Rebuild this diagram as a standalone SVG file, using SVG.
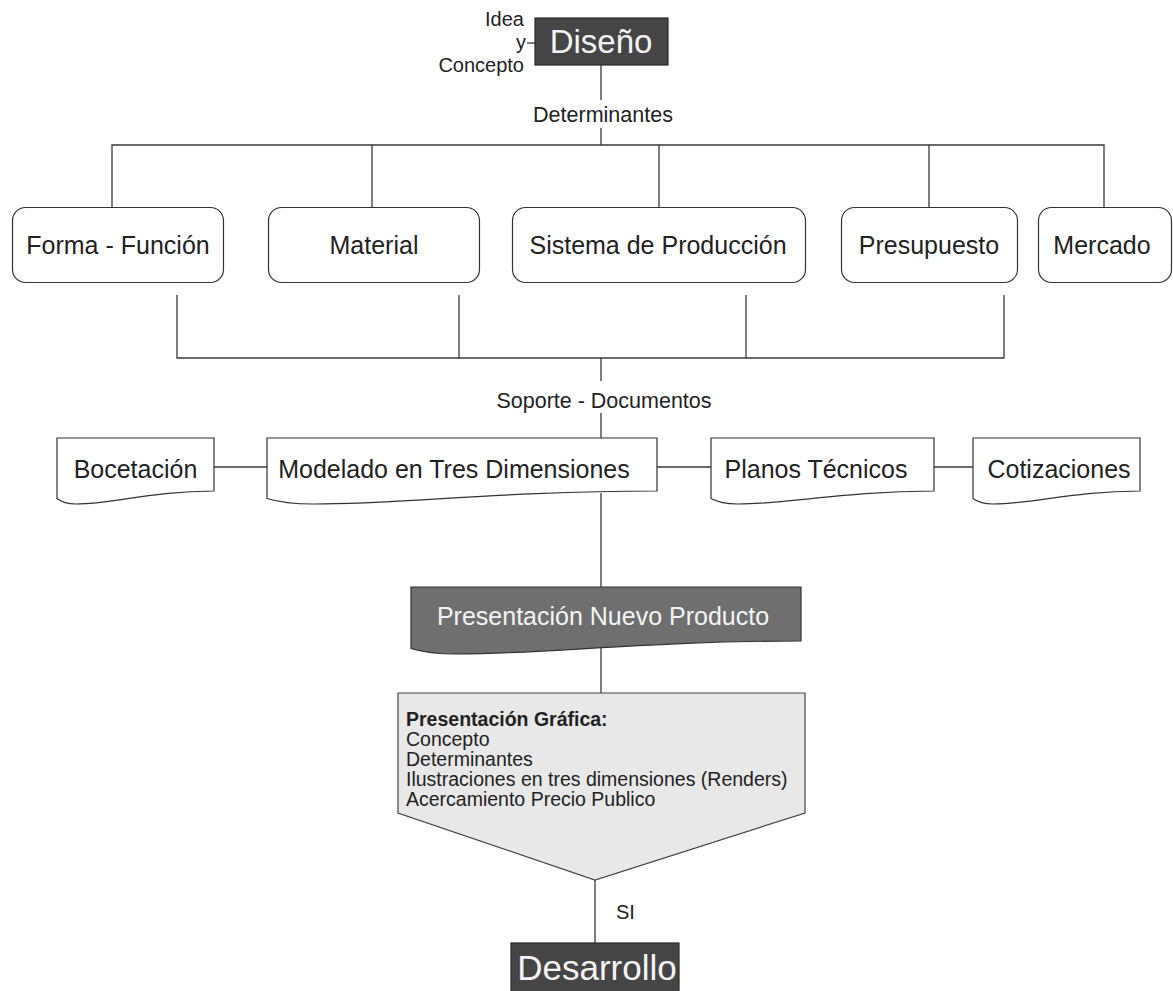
<svg xmlns="http://www.w3.org/2000/svg" width="1173" height="991" viewBox="0 0 1173 991">
  <style>
    text { font-family: "Liberation Sans", Arial, sans-serif; fill: #222; }
    .ln { stroke: #3a3a3a; stroke-width: 1.3; fill: none; }
    .box { fill: #fff; stroke: #333; stroke-width: 1.2; }
    .doc { fill: #fff; stroke: #333; stroke-width: 1.2; }
    .dark { fill: #454545; stroke: #2a2a2a; stroke-width: 1.2; }
    .lbl { font-size: 25px; text-anchor: middle; }
    .small { font-size: 21.5px; text-anchor: middle; }
    .side { font-size: 20px; text-anchor: end; }
    .white { fill: #f4f4f4; }
    .list { font-size: 19.5px; }
  </style>

  <!-- connectors -->
  <g id="connectors" class="ln">
    <line x1="527" y1="43" x2="535" y2="43"/>
    <line x1="601" y1="65" x2="601" y2="100"/>
    <line x1="601" y1="128" x2="601" y2="145"/>
    <polyline points="112,207 112,145 1104,145 1104,207"/>
    <line x1="372" y1="145" x2="372" y2="207"/>
    <line x1="659" y1="145" x2="659" y2="207"/>
    <line x1="929" y1="145" x2="929" y2="207"/>
    <polyline points="177,295 177,358 1004,358 1004,295"/>
    <line x1="459" y1="295" x2="459" y2="358"/>
    <line x1="746" y1="295" x2="746" y2="358"/>
    <line x1="601" y1="358" x2="601" y2="381"/>
    <line x1="601" y1="413" x2="601" y2="438"/>
    <line x1="214" y1="467" x2="267" y2="467"/>
    <line x1="657" y1="467" x2="711" y2="467"/>
    <line x1="934" y1="467" x2="973" y2="467"/>
    <line x1="601" y1="493" x2="601" y2="587"/>
    <line x1="601" y1="647" x2="601" y2="693"/>
    <line x1="595" y1="880" x2="595" y2="943"/>
  </g>

  <!-- top node -->
  <g id="diseno">
    <rect class="dark" x="535" y="18" width="133" height="47"/>
    <text class="white" x="601" y="53" font-size="33" text-anchor="middle">Diseño</text>
  </g>
  <g id="idea-concepto">
    <text class="side" x="524" y="26">Idea</text>
    <text class="side" x="526" y="49">y</text>
    <text class="side" x="524" y="72">Concepto</text>
  </g>
  <g id="lbl-determinantes">
    <text class="small" x="603" y="122">Determinantes</text>
  </g>

  <!-- determinants -->
  <g id="forma-funcion">
    <rect class="box" x="12.5" y="207.5" width="211" height="75" rx="13"/>
    <text class="lbl" x="118" y="254">Forma - Función</text>
  </g>
  <g id="material">
    <rect class="box" x="268.5" y="207.5" width="211" height="75" rx="13"/>
    <text class="lbl" x="374" y="254">Material</text>
  </g>
  <g id="sistema-produccion">
    <rect class="box" x="512.5" y="207.5" width="293" height="75" rx="13"/>
    <text class="lbl" x="658" y="254">Sistema de Producción</text>
  </g>
  <g id="presupuesto">
    <rect class="box" x="841.5" y="207.5" width="176" height="75" rx="13"/>
    <text class="lbl" x="929" y="254">Presupuesto</text>
  </g>
  <g id="mercado">
    <rect class="box" x="1038.5" y="207.5" width="133" height="75" rx="13"/>
    <text class="lbl" x="1102" y="254">Mercado</text>
  </g>

  <g id="lbl-soporte">
    <text class="small" x="604" y="408">Soporte - Documentos</text>
  </g>

  <!-- documents -->
  <g id="bocetacion">
    <path class="doc" d="M57,438 H214 V491 C151.2,491 112,504 75.8,504 C64.9,504 60.1,501 57,498.5 Z"/>
    <text class="lbl" x="135.5" y="478">Bocetación</text>
  </g>
  <g id="modelado">
    <path class="doc" d="M267,438 H657 V491 C501,491 403.5,504 313.8,504 C286.5,504 274.8,501 267,498.5 Z"/>
    <text class="lbl" x="454" y="478">Modelado en Tres Dimensiones</text>
  </g>
  <g id="planos">
    <path class="doc" d="M711,438 H934 V491 C844.8,491 789,504 737.8,504 C722.2,504 715.5,501 711,498.5 Z"/>
    <text class="lbl" x="816" y="478">Planos Técnicos</text>
  </g>
  <g id="cotizaciones">
    <path class="doc" d="M973,438 H1140 V491 C1073.2,491 1031.5,504 993,504 C981.4,504 976.3,501 973,498.5 Z"/>
    <text class="lbl" x="1059" y="478">Cotizaciones</text>
  </g>

  <g id="presentacion-nuevo-producto">
    <path d="M411,587 H801 V641 C645,641 547.5,654 457.8,654 C430.5,654 418.8,651 411,648.5 Z" fill="#6f6f6f" stroke="#333" stroke-width="1.2"/>
    <text class="white" x="603" y="625" font-size="25" text-anchor="middle">Presentación Nuevo Producto</text>
  </g>

  <g id="presentacion-grafica">
    <path d="M398,693 H805 V813 L595,880 L398,813 Z" fill="#e8e8e8" stroke="#444" stroke-width="1.2"/>
    <text class="list" x="406" y="726" font-weight="bold">Presentación Gráfica:</text>
    <text class="list" x="406" y="746">Concepto</text>
    <text class="list" x="406" y="766">Determinantes</text>
    <text class="list" x="406" y="786">Ilustraciones en tres dimensiones (Renders)</text>
    <text class="list" x="406" y="806">Acercamiento Precio Publico</text>
  </g>

  <g id="lbl-si">
    <text x="616" y="919" font-size="20">SI</text>
  </g>

  <g id="desarrollo">
    <rect class="dark" x="511" y="943" width="168" height="60"/>
    <text class="white" x="597" y="980" font-size="35" text-anchor="middle">Desarrollo</text>
  </g>
</svg>
